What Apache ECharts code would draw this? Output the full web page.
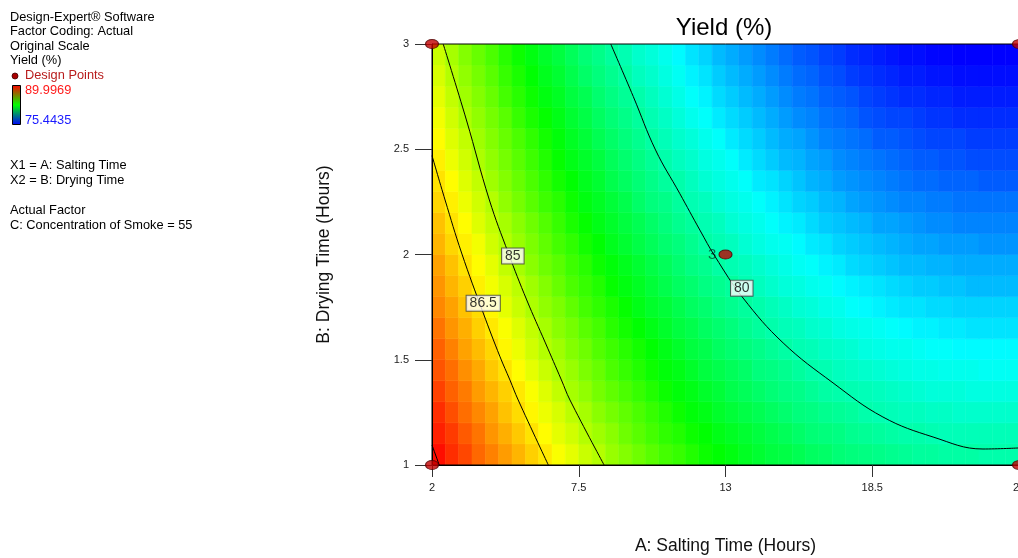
<!DOCTYPE html>
<html>
<head>
<meta charset="utf-8">
<script src="https://cdn.jsdelivr.net/npm/echarts@6/dist/echarts.min.js"></script>
<style>
html,body{margin:0;padding:0;background:#fff;}
#chart{width:1018px;height:558px;}
</style>
</head>
<body>
<div id="chart"></div>
<script>
// ---- Data ----
// Cell centres of the response-surface grid
const saltingCenters = [2.25,2.75,3.25,3.75,4.25,4.75,5.25,5.75,6.25,6.75,7.25,7.75,8.25,8.75,9.25,9.75,10.25,10.75,11.25,11.75,12.25,12.75,13.25,13.75,14.25,14.75,15.25,15.75,16.25,16.75,17.25,17.75,18.25,18.75,19.25,19.75,20.25,20.75,21.25,21.75,22.25,22.75,23.25,23.75];
const dryingCenters = [1.05,1.15,1.25,1.35,1.45,1.55,1.65,1.75,1.85,1.95,2.05,2.15,2.25,2.35,2.45,2.55,2.65,2.75,2.85,2.95];
// Estimated Yield (%) per cell, one row per drying-time centre
const yieldRows = [
[89.8,89.3,88.9,88.4,88.0,87.6,87.2,86.8,86.4,86.0,85.7,85.3,85.0,84.6,84.3,84.0,83.7,83.4,83.2,82.9,82.6,82.4,82.2,81.9,81.7,81.5,81.4,81.2,81.0,80.9,80.7,80.6,80.5,80.4,80.3,80.2,80.1,80.1,80.0,80.0,80.0,79.9,79.9,79.9],
[89.5,89.1,88.6,88.2,87.7,87.3,86.9,86.5,86.1,85.7,85.4,85.0,84.7,84.4,84.0,83.7,83.4,83.1,82.9,82.6,82.4,82.1,81.9,81.7,81.5,81.3,81.1,80.9,80.7,80.6,80.5,80.3,80.2,80.1,80.0,79.9,79.9,79.8,79.7,79.7,79.7,79.7,79.7,79.7],
[89.3,88.8,88.3,87.9,87.5,87.0,86.6,86.2,85.8,85.5,85.1,84.8,84.4,84.1,83.8,83.5,83.2,82.9,82.6,82.3,82.1,81.8,81.6,81.4,81.2,81.0,80.8,80.6,80.5,80.3,80.2,80.1,79.9,79.8,79.7,79.6,79.6,79.5,79.5,79.4,79.4,79.4,79.4,79.4],
[89.0,88.5,88.1,87.6,87.2,86.8,86.4,86.0,85.6,85.2,84.8,84.5,84.1,83.8,83.5,83.2,82.9,82.6,82.3,82.1,81.8,81.6,81.3,81.1,80.9,80.7,80.5,80.4,80.2,80.0,79.9,79.8,79.7,79.6,79.5,79.4,79.3,79.2,79.2,79.2,79.1,79.1,79.1,79.1],
[88.7,88.3,87.8,87.4,86.9,86.5,86.1,85.7,85.3,84.9,84.6,84.2,83.9,83.5,83.2,82.9,82.6,82.3,82.1,81.8,81.5,81.3,81.1,80.9,80.6,80.5,80.3,80.1,79.9,79.8,79.6,79.5,79.4,79.3,79.2,79.1,79.0,79.0,78.9,78.9,78.9,78.8,78.8,78.8],
[88.5,88.0,87.5,87.1,86.7,86.2,85.8,85.4,85.0,84.7,84.3,84.0,83.6,83.3,83.0,82.7,82.4,82.1,81.8,81.5,81.3,81.0,80.8,80.6,80.4,80.2,80.0,79.8,79.7,79.5,79.4,79.3,79.1,79.0,78.9,78.9,78.8,78.7,78.7,78.6,78.6,78.6,78.6,78.6],
[88.2,87.7,87.3,86.8,86.4,86.0,85.6,85.2,84.8,84.4,84.1,83.7,83.4,83.0,82.7,82.4,82.1,81.8,81.5,81.3,81.0,80.8,80.6,80.3,80.1,79.9,79.7,79.6,79.4,79.3,79.1,79.0,78.9,78.8,78.7,78.6,78.5,78.5,78.4,78.4,78.3,78.3,78.3,78.3],
[87.9,87.5,87.0,86.6,86.2,85.7,85.3,84.9,84.5,84.2,83.8,83.4,83.1,82.8,82.5,82.1,81.8,81.6,81.3,81.0,80.8,80.5,80.3,80.1,79.9,79.7,79.5,79.3,79.2,79.0,78.9,78.7,78.6,78.5,78.4,78.3,78.3,78.2,78.2,78.1,78.1,78.1,78.1,78.1],
[87.7,87.2,86.8,86.3,85.9,85.5,85.1,84.7,84.3,83.9,83.5,83.2,82.9,82.5,82.2,81.9,81.6,81.3,81.0,80.8,80.5,80.3,80.1,79.8,79.6,79.4,79.2,79.1,78.9,78.8,78.6,78.5,78.4,78.3,78.2,78.1,78.0,78.0,77.9,77.9,77.8,77.8,77.8,77.8],
[87.5,87.0,86.5,86.1,85.7,85.2,84.8,84.4,84.0,83.7,83.3,83.0,82.6,82.3,82.0,81.7,81.4,81.1,80.8,80.5,80.3,80.0,79.8,79.6,79.4,79.2,79.0,78.8,78.7,78.5,78.4,78.2,78.1,78.0,77.9,77.8,77.8,77.7,77.7,77.6,77.6,77.6,77.6,77.6],
[87.2,86.7,86.3,85.9,85.4,85.0,84.6,84.2,83.8,83.4,83.1,82.7,82.4,82.0,81.7,81.4,81.1,80.8,80.6,80.3,80.0,79.8,79.6,79.3,79.1,78.9,78.8,78.6,78.4,78.3,78.1,78.0,77.9,77.8,77.7,77.6,77.5,77.5,77.4,77.4,77.4,77.3,77.3,77.3],
[87.0,86.5,86.1,85.6,85.2,84.8,84.4,84.0,83.6,83.2,82.8,82.5,82.1,81.8,81.5,81.2,80.9,80.6,80.3,80.1,79.8,79.6,79.3,79.1,78.9,78.7,78.5,78.4,78.2,78.0,77.9,77.8,77.7,77.5,77.5,77.4,77.3,77.2,77.2,77.1,77.1,77.1,77.1,77.1],
[86.7,86.3,85.8,85.4,85.0,84.5,84.1,83.7,83.3,83.0,82.6,82.2,81.9,81.6,81.3,80.9,80.6,80.4,80.1,79.8,79.6,79.3,79.1,78.9,78.7,78.5,78.3,78.1,78.0,77.8,77.7,77.5,77.4,77.3,77.2,77.1,77.1,77.0,77.0,76.9,76.9,76.9,76.9,76.9],
[86.5,86.1,85.6,85.2,84.7,84.3,83.9,83.5,83.1,82.7,82.4,82.0,81.7,81.3,81.0,80.7,80.4,80.1,79.9,79.6,79.3,79.1,78.9,78.7,78.4,78.3,78.1,77.9,77.7,77.6,77.4,77.3,77.2,77.1,77.0,76.9,76.8,76.8,76.7,76.7,76.7,76.6,76.6,76.6],
[86.3,85.8,85.4,84.9,84.5,84.1,83.7,83.3,82.9,82.5,82.1,81.8,81.5,81.1,80.8,80.5,80.2,79.9,79.6,79.4,79.1,78.9,78.7,78.4,78.2,78.0,77.8,77.7,77.5,77.4,77.2,77.1,77.0,76.9,76.8,76.7,76.6,76.6,76.5,76.5,76.4,76.4,76.4,76.4],
[86.1,85.6,85.2,84.7,84.3,83.9,83.5,83.1,82.7,82.3,81.9,81.6,81.2,80.9,80.6,80.3,80.0,79.7,79.4,79.2,78.9,78.7,78.4,78.2,78.0,77.8,77.6,77.5,77.3,77.1,77.0,76.9,76.8,76.6,76.6,76.5,76.4,76.3,76.3,76.3,76.2,76.2,76.2,76.2],
[85.9,85.4,84.9,84.5,84.1,83.7,83.2,82.8,82.5,82.1,81.7,81.4,81.0,80.7,80.4,80.1,79.8,79.5,79.2,78.9,78.7,78.4,78.2,78.0,77.8,77.6,77.4,77.2,77.1,76.9,76.8,76.7,76.5,76.4,76.3,76.3,76.2,76.1,76.1,76.0,76.0,76.0,76.0,76.0],
[85.7,85.2,84.7,84.3,83.9,83.4,83.0,82.6,82.2,81.9,81.5,81.2,80.8,80.5,80.2,79.9,79.6,79.3,79.0,78.7,78.5,78.2,78.0,77.8,77.6,77.4,77.2,77.0,76.9,76.7,76.6,76.5,76.3,76.2,76.1,76.0,76.0,75.9,75.9,75.8,75.8,75.8,75.8,75.8],
[85.5,85.0,84.5,84.1,83.7,83.2,82.8,82.4,82.0,81.7,81.3,80.9,80.6,80.3,80.0,79.6,79.4,79.1,78.8,78.5,78.3,78.0,77.8,77.6,77.4,77.2,77.0,76.8,76.7,76.5,76.4,76.2,76.1,76.0,75.9,75.8,75.8,75.7,75.7,75.6,75.6,75.6,75.6,75.6],
[85.3,84.8,84.3,83.9,83.5,83.0,82.6,82.2,81.8,81.5,81.1,80.7,80.4,80.1,79.8,79.4,79.2,78.9,78.6,78.3,78.1,77.8,77.6,77.4,77.2,77.0,76.8,76.6,76.5,76.3,76.2,76.0,75.9,75.8,75.7,75.6,75.6,75.5,75.5,75.4,75.4,75.4,75.4,75.4]
];
const yieldMin = 75.4435;
const yieldMax = 89.9969;

// Contour lines: [Salting Time, Drying Time]
const contour80 = [[8.70,3.0],[9.545,2.75],[10.38,2.496],[11.28,2.291],[12.04,2.116],[12.61,1.99],[13.66,1.793],[15.16,1.58],[17.03,1.39],[18.90,1.228],[20.78,1.133],[22.65,1.076],[24.0,1.081]];
const contour85 = [[2.42,3.0],[3.29,2.639],[4.15,2.259],[4.86,2.007],[5.55,1.784],[6.25,1.58],[6.85,1.404],[7.17,1.309],[8.45,1.0]];
const contour865 = [[2.0,2.47],[2.49,2.259],[3.11,2.007],[3.92,1.722],[4.55,1.514],[4.92,1.404],[5.23,1.309],[6.36,1.0]];
const contourCorner = [[2.0,1.095],[2.27,1.0]];

// Contour labels
const contourLabelA = [5.03, 3.92, 13.61];
const contourLabelB = [1.993, 1.768, 1.84];
const contourLabelText = ['85', '86.5', '80'];

// Design points
const designA = [2, 2, 24, 24, 13];
const designB = [1, 3, 3, 1, 2];
const designReps = [1, 1, 1, 1, 3];

// Axis ticks
const xTicks = [2, 7.5, 13, 18.5, 24];
const yTicks = [1, 1.5, 2, 2.5, 3];

// Legend text
const infoLines = ['Design-Expert\u00ae Software', 'Factor Coding: Actual', 'Original Scale', 'Yield (%)'];
const factorLines = ['X1 = A: Salting Time', 'X2 = B: Drying Time'];
const actualLines = ['Actual Factor', 'C: Concentration of Smoke = 55'];

// ---- Styling helpers ----
const FONT = '"Liberation Sans", Arial, Helvetica, sans-serif';
// colour ramp (position 0..1 -> rgb), blue -> cyan -> green -> yellow -> red
const rampStops = [[0, [0, 0, 255]], [0.22, [0, 255, 255]], [0.48, [0, 255, 0]], [0.73, [255, 255, 0]], [1, [255, 0, 0]]];
function rampColor(t) {
  for (let k = 1; k < rampStops.length; k++) {
    if (t <= rampStops[k][0]) {
      const a = rampStops[k - 1], b = rampStops[k];
      const u = (t - a[0]) / (b[0] - a[0]);
      const c = a[1].map((v, i) => Math.round(v + (b[1][i] - v) * u));
      return 'rgb(' + c.join(',') + ')';
    }
  }
  return 'rgb(255,0,0)';
}
const rampList = [];
for (let k = 0; k <= 100; k++) rampList.push(rampColor(k / 100));

// ---- Build chart ----
const cells = [];
dryingCenters.forEach((b, j) => {
  saltingCenters.forEach((a, i) => { cells.push([a, b, yieldRows[j][i]]); });
});
const halfA = (saltingCenters[1] - saltingCenters[0]) / 2;
const halfB = (dryingCenters[1] - dryingCenters[0]) / 2;

const chart = echarts.init(document.getElementById('chart'), null, {renderer: 'canvas'});

function txt(x, y, text, color, size) {
  return {type: 'text', x: x, y: y, silent: true,
    style: {text: text, fill: color || '#000', font: (size || 12.8) + 'px ' + FONT, align: 'left', verticalAlign: 'middle'}};
}
const graphics = [];
const infoY = [17, 31.5, 46, 60.5];
infoLines.forEach((t, i) => graphics.push(txt(10, infoY[i], t)));
graphics.push({type: 'circle', shape: {cx: 15, cy: 76, r: 3}, style: {fill: '#a80000', stroke: '#400000', lineWidth: 0.8}});
graphics.push(txt(25, 75.5, 'Design Points', '#b81c1c'));
graphics.push({type: 'rect', shape: {x: 12.5, y: 85.5, width: 8, height: 39},
  style: {fill: new echarts.graphic.LinearGradient(0, 0, 0, 1, [
    {offset: 0, color: '#ff0000'}, {offset: 0.5, color: '#00ff00'}, {offset: 1, color: '#0000ff'}]),
    stroke: '#000', lineWidth: 1}});
graphics.push(txt(25, 90, String(yieldMax), '#ff1a1a'));
graphics.push(txt(25, 120, String(yieldMin), '#1a1aff'));
graphics.push(txt(10, 165.5, factorLines[0]));
graphics.push(txt(10, 180, factorLines[1]));
graphics.push(txt(10, 210.5, actualLines[0]));
graphics.push(txt(10, 225, actualLines[1]));
graphics.push({type: 'text', x: 724, y: 28, silent: true,
  style: {text: 'Yield (%)', fill: '#000', font: '24px ' + FONT, align: 'center', verticalAlign: 'middle'}});

function contourSeries(data) {
  return {type: 'line', data: data, symbol: 'none', smooth: 0.4, silent: true, z: 5,
    lineStyle: {color: '#000', width: 1}, clip: true};
}

const option = {
  animation: false,
  textStyle: {fontFamily: FONT},
  grid: {left: 432, top: 44, width: 587, height: 421, show: true, borderColor: '#000', borderWidth: 1,
    backgroundColor: 'transparent', z: 10, containLabel: false, outerBoundsMode: 'none'},
  visualMap: {type: 'continuous', show: false, min: yieldMin, max: yieldMax, dimension: 2, seriesIndex: 0,
    inRange: {color: rampList}},
  xAxis: {type: 'value', min: xTicks[0], max: xTicks[xTicks.length - 1], interval: xTicks[1] - xTicks[0], z: 10,
    name: 'A: Salting Time (Hours)', nameLocation: 'middle', nameGap: 72,
    nameTextStyle: {fontSize: 17.5, color: '#111', fontFamily: FONT},
    axisLine: {show: true, onZero: false, lineStyle: {color: '#000', width: 1}},
    axisTick: {show: true, length: 12, lineStyle: {color: '#333'}},
    axisLabel: {fontSize: 11, color: '#222', margin: 17, fontFamily: FONT, hideOverlap: false},
    splitLine: {show: false}},
  yAxis: {type: 'value', min: yTicks[0], max: yTicks[yTicks.length - 1], interval: yTicks[1] - yTicks[0], z: 10,
    name: 'B: Drying Time (Hours)', nameLocation: 'middle', nameGap: 99,
    nameTextStyle: {fontSize: 17.5, color: '#111', fontFamily: FONT},
    axisLine: {show: true, onZero: false, lineStyle: {color: '#000', width: 1}},
    axisTick: {show: true, length: 17, lineStyle: {color: '#333'}},
    axisLabel: {fontSize: 11, color: '#222', margin: 23, fontFamily: FONT},
    splitLine: {show: false}},
  graphic: graphics,
  series: [
    {type: 'custom', data: cells, encode: {x: 0, y: 1}, silent: true, z: 1, clip: true,
      renderItem: function (params, api) {
        const a = api.value(0), b = api.value(1);
        const p0 = api.coord([a - halfA, b + halfB]);
        const p1 = api.coord([a + halfA, b - halfB]);
        const c = api.visual('color');
        return {type: 'rect', shape: {x: p0[0], y: p0[1], width: p1[0] - p0[0], height: p1[1] - p0[1]},
          style: {fill: c, stroke: c, lineWidth: 0.6}};
      }},
    contourSeries(contour80),
    contourSeries(contour85),
    contourSeries(contour865),
    contourSeries(contourCorner),
    {type: 'scatter', silent: true, z: 8, clip: false,
      data: contourLabelA.map((a, i) => ({value: [a, contourLabelB[i]], name: contourLabelText[i]})),
      symbolSize: 0.1, itemStyle: {color: 'transparent'},
      label: {show: true, position: 'inside', formatter: p => p.name, fontSize: 14, color: '#000', fontFamily: FONT,
        backgroundColor: '#fff', borderColor: '#444', borderWidth: 1, padding: [1, 3, 0, 3]}},
    {type: 'scatter', silent: true, z: 20, clip: false,
      data: designA.map((a, i) => ({value: [a, designB[i]],
        label: {show: designReps[i] > 1, formatter: String(designReps[i])}})),
      symbol: 'circle', symbolSize: [13, 9],
      itemStyle: {color: '#c00000', borderColor: '#500000', borderWidth: 1},
      label: {position: 'left', distance: 2, fontSize: 15, color: 'rgba(0,0,0,0.7)', fontFamily: FONT}}
  ]
};
chart.setOption(option);
</script>
</body>
</html>
